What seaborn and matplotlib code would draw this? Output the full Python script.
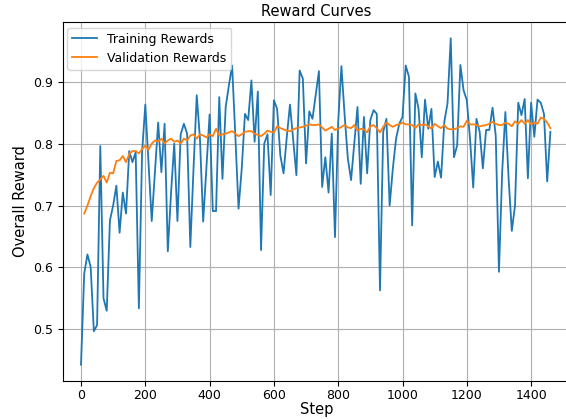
import numpy as np
import matplotlib
matplotlib.use("Agg")
import matplotlib.pyplot as plt
import seaborn as sns

# training reward logged every 10 steps
train_steps = list(range(0, 1470, 10))
train_rewards = [
    0.443, 0.590, 0.621, 0.601, 0.497, 0.507, 0.796, 0.550, 0.530, 0.676,
    0.700, 0.732, 0.656, 0.721, 0.687, 0.788, 0.770, 0.786, 0.534, 0.786,
    0.863, 0.770, 0.675, 0.755, 0.834, 0.754, 0.832, 0.626, 0.720, 0.800,
    0.675, 0.815, 0.832, 0.816, 0.633, 0.760, 0.878, 0.808, 0.674, 0.760,
    0.847, 0.691, 0.691, 0.875, 0.743, 0.859, 0.894, 0.926, 0.813, 0.695,
    0.760, 0.848, 0.838, 0.902, 0.803, 0.884, 0.628, 0.800, 0.815, 0.717,
    0.870, 0.856, 0.781, 0.752, 0.810, 0.863, 0.805, 0.749, 0.918, 0.905,
    0.768, 0.852, 0.840, 0.878, 0.917, 0.730, 0.778, 0.721, 0.816, 0.649,
    0.835, 0.925, 0.846, 0.776, 0.741, 0.800, 0.859, 0.735, 0.843, 0.752,
    0.838, 0.854, 0.848, 0.563, 0.819, 0.840, 0.700, 0.760, 0.808, 0.832,
    0.843, 0.926, 0.908, 0.668, 0.881, 0.856, 0.778, 0.871, 0.824, 0.856,
    0.746, 0.771, 0.745, 0.835, 0.865, 0.970, 0.778, 0.797, 0.927, 0.886,
    0.870, 0.808, 0.729, 0.840, 0.819, 0.760, 0.822, 0.822, 0.858, 0.813,
    0.593, 0.754, 0.851, 0.744, 0.659, 0.700, 0.866, 0.846, 0.872, 0.744,
    0.866, 0.811, 0.871, 0.866, 0.848, 0.739, 0.819,
]

# validation reward, first eval at step 10
val_steps = list(range(10, 1470, 10))
val_rewards = [
    0.687, 0.700, 0.715, 0.728, 0.737, 0.742, 0.748, 0.737, 0.753, 0.752,
    0.772, 0.773, 0.780, 0.770, 0.783, 0.788, 0.788, 0.784, 0.791, 0.797,
    0.790, 0.800, 0.805, 0.803, 0.808, 0.800, 0.805, 0.808, 0.803, 0.805,
    0.800, 0.808, 0.805, 0.813, 0.815, 0.808, 0.815, 0.813, 0.810, 0.815,
    0.812, 0.824, 0.813, 0.815, 0.816, 0.818, 0.820, 0.816, 0.812, 0.815,
    0.819, 0.820, 0.820, 0.816, 0.814, 0.812, 0.816, 0.821, 0.819, 0.818,
    0.828, 0.825, 0.823, 0.821, 0.820, 0.823, 0.825, 0.826, 0.827, 0.829,
    0.831, 0.830, 0.830, 0.831, 0.826, 0.821, 0.824, 0.827, 0.822, 0.824,
    0.827, 0.830, 0.826, 0.825, 0.830, 0.821, 0.824, 0.823, 0.818, 0.828,
    0.830, 0.825, 0.818, 0.827, 0.834, 0.830, 0.827, 0.830, 0.831, 0.834,
    0.831, 0.831, 0.830, 0.825, 0.831, 0.830, 0.831, 0.828, 0.824, 0.832,
    0.828, 0.825, 0.830, 0.824, 0.823, 0.823, 0.825, 0.828, 0.827, 0.837,
    0.831, 0.831, 0.830, 0.828, 0.829, 0.830, 0.832, 0.835, 0.832, 0.830,
    0.830, 0.834, 0.832, 0.828, 0.836, 0.832, 0.838, 0.832, 0.838, 0.831,
    0.834, 0.832, 0.842, 0.840, 0.834, 0.825,
]

fig = plt.figure(figsize=(5.66, 4.19), dpi=100)
ax = fig.add_axes([63 / 566, 38 / 419, (570 - 63) / 566, (381 - 22) / 419])

sns.lineplot(x=train_steps, y=train_rewards, ax=ax, color="#1f77b4",
             linewidth=1.3, label="Training Rewards")
sns.lineplot(x=val_steps, y=val_rewards, ax=ax, color="#ff7f0e",
             linewidth=1.3, label="Validation Rewards")

ax.set_xlim(-56, 1521)
ax.set_xticks(range(0, 1401, 200))
ax.set_yticks([0.5, 0.6, 0.7, 0.8, 0.9])
ax.grid(True)
ax.tick_params(labelsize=9)
ax.tick_params(axis="x", pad=2.5)
ax.set_title("Reward Curves", fontsize=10.5, pad=4)
ax.set_xlabel("Step", fontsize=10.5, labelpad=0)
ax.set_ylabel("Overall Reward", fontsize=10.5)
ax.legend(loc="upper left", fontsize=9, bbox_to_anchor=(-0.003, 1.0),
          borderaxespad=0.45)

fig.savefig("out.png", dpi=100)
